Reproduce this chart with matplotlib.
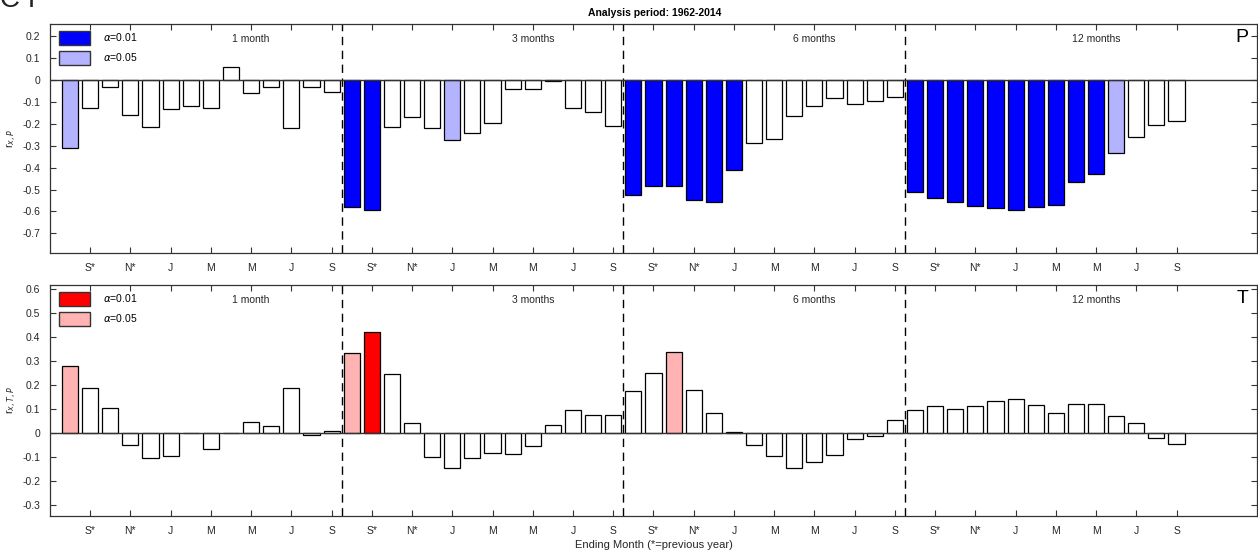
import numpy as np
import matplotlib.pyplot as plt
from matplotlib.patches import Patch

plt.rcParams['font.family'] = ['Liberation Sans', 'DejaVu Sans']

# Month labels for every second bar (Aug prev -> Sep), repeated per aggregation window
tick_names = ["S*", "N*", "J", "M", "M", "J", "S"]
windows = ["1 month", "3 months", "6 months", "12 months"]

# Correlations with precipitation (P), 14 bars per window
r_P = [-0.312, -0.129, -0.033, -0.160, -0.213, -0.134, -0.120, -0.129, 0.058, -0.058, -0.033, -0.221, -0.033, -0.056,
       -0.578, -0.594, -0.216, -0.169, -0.221, -0.275, -0.240, -0.198, -0.043, -0.043, -0.003, -0.129, -0.145, -0.209,
       -0.527, -0.482, -0.482, -0.546, -0.559, -0.409, -0.289, -0.271, -0.164, -0.120, -0.082, -0.111, -0.094, -0.076,
       -0.513, -0.537, -0.556, -0.575, -0.586, -0.595, -0.580, -0.571, -0.464, -0.429, -0.333, -0.260, -0.207, -0.187]
# significance: 2 = alpha 0.01, 1 = alpha 0.05, 0 = not significant
sig_P = [1, 0, 0, 0, 0, 0, 0, 0, 0, 0, 0, 0, 0, 0,
         2, 2, 0, 0, 0, 1, 0, 0, 0, 0, 0, 0, 0, 0,
         2, 2, 2, 2, 2, 2, 0, 0, 0, 0, 0, 0, 0, 0,
         2, 2, 2, 2, 2, 2, 2, 2, 2, 2, 1, 0, 0, 0]

# Partial correlations with temperature (T)
r_T = [0.280, 0.190, 0.105, -0.050, -0.104, -0.094, 0.0, -0.066, 0.0, 0.047, 0.029, 0.190, -0.006, 0.011,
       0.332, 0.421, 0.245, 0.043, -0.100, -0.143, -0.104, -0.080, -0.086, -0.054, 0.035, 0.096, 0.075, 0.075,
       0.175, 0.249, 0.339, 0.180, 0.083, 0.007, -0.050, -0.094, -0.143, -0.120, -0.089, -0.025, -0.011, 0.055,
       0.096, 0.114, 0.101, 0.114, 0.136, 0.141, 0.118, 0.083, 0.122, 0.122, 0.073, 0.043, -0.019, -0.046]
sig_T = [1, 0, 0, 0, 0, 0, 0, 0, 0, 0, 0, 0, 0, 0,
         1, 2, 0, 0, 0, 0, 0, 0, 0, 0, 0, 0, 0, 0,
         0, 0, 1, 0, 0, 0, 0, 0, 0, 0, 0, 0, 0, 0,
         0, 0, 0, 0, 0, 0, 0, 0, 0, 0, 0, 0, 0, 0]

x = np.arange(1, len(r_P) + 1)
txt = "#262626"


def draw_panel(ax, r, sig, c01, c05, ylim, yticks, ylab, letter):
    cols = ["white", c05, c01]
    ax.bar(x, r, width=0.8, color=[cols[s] for s in sig], edgecolor="black", linewidth=0.9, zorder=2)
    ax.axhline(0, color="#333333", lw=1, zorder=3)
    for xv in [14.5, 28.5, 42.5]:
        ax.axvline(xv, color="black", lw=1, ls=(0, (6, 4)), zorder=1)
    ax.set_xlim(0, 60)
    ax.set_ylim(*ylim)
    ax.set_yticks(yticks)
    ax.set_yticklabels(["0" if abs(v) < 1e-9 else "%g" % v for v in yticks])
    ax.set_xticks(np.arange(2, 57, 2))
    ax.set_xticklabels(tick_names * 4)
    ax.tick_params(direction="in", top=True, right=True, length=4, width=0.8,
                   labelsize=7.5, colors="#333333", labelcolor=txt, pad=7)
    for s in ax.spines.values():
        s.set_color("#333333")
        s.set_linewidth(0.9)
    ax.set_ylabel(ylab, fontsize=8, color=txt, labelpad=2)
    for k, w in enumerate(windows):
        ax.text(10 + 14 * k, 0.935, w, transform=ax.get_xaxis_transform(),
                ha="center", va="center", fontsize=7.5, color=txt)
    ax.text(0.993, 0.94, letter, transform=ax.transAxes, ha="right", va="center", fontsize=14)
    h = [Patch(facecolor=c01, edgecolor="#333333", lw=1),
         Patch(facecolor=c05, edgecolor="#333333", lw=1)]
    ax.legend(h, [r"$\alpha$=0.01", r"$\alpha$=0.05"], loc="upper left", bbox_to_anchor=(0.002, 1.0),
              frameon=False, fontsize=7.5, handlelength=3.0, handleheight=1.7,
              labelspacing=0.6, handletextpad=1.2, borderaxespad=0.25)


fig = plt.figure(figsize=(12.58, 5.54), dpi=100)
ax1 = fig.add_axes([0.0397, 0.5433, 0.9595, 0.4134])
ax2 = fig.add_axes([0.0397, 0.0686, 0.9595, 0.4170])

draw_panel(ax1, r_P, sig_P, "#0000FF", "#B3B3FF", (-0.79, 0.256),
           np.round(np.arange(-0.7, 0.21, 0.1), 1), r"r$_{x,P}$", "P")
draw_panel(ax2, r_T, sig_T, "#FF0000", "#FFB3B3", (-0.344, 0.617),
           np.round(np.arange(-0.3, 0.61, 0.1), 1), r"r$_{x,T,P}$", "T")

fig.text(0.5207, 0.9765, "Analysis period: 1962-2014", ha="center", va="center",
         fontsize=7.5, fontweight="bold")
ax2.set_xlabel("Ending Month (*=previous year)", fontsize=8, color=txt, labelpad=3)
# panel tag, sits partly above the figure edge
fig.text(0.0, 1.0, "C I", ha="left", va="center", fontsize=20, color="#222222")

fig.savefig("out.png", dpi=100)
